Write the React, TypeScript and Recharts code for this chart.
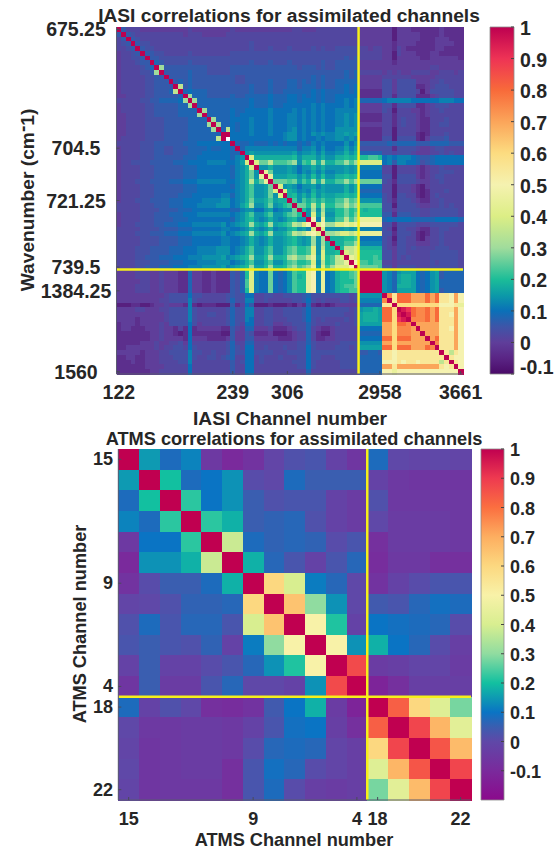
import { ScatterChart, Scatter, XAxis, YAxis, ReferenceLine, BarChart, Bar } from "recharts";

const FONT = "'Liberation Sans', Arial, sans-serif";
const INK = "#262626";

// correlation, one letter per cell
const LEVEL_KEYS = "abcdefghijklmnopqrstuvwxyzABCDE";
const LEVEL_VALUES = [
  -0.1, -0.06, -0.03, 0, 0.02, 0.04, 0.06, 0.08, 0.1, 0.12, 0.14, 0.16, 0.18, 0.2, 0.23, 0.26,
  0.3, 0.35, 0.4, 0.45, 0.5, 0.55, 0.6, 0.65, 0.7, 0.75, 0.8, 0.85, 0.9, 0.95, 1,
];

// lower triangle, the matrix is symmetric
const iasiRows = [
  "E",
  "gE",
  "egE",
  "efgE",
  "eefgE",
  "deefgE",
  "deeffgE",
  "deeefggE",
  "deeeefghE",
  "deeeeffgqE",
  "deeeeeffgg E",
  "deeeeeffgg gE",
  "deeeeeffgg ggE",
  "deeeeeffgg ghrE",
  "ddeeeeffgg ggghE",
  "eeeeeffggh hhhiqE",
  "deeeeeffgg ggghhqE",
  "deeeeeffgg ggghhhhE",
  "ddeeeeffgg ggghhhhqE",
  "ddeeeeffff ggggghhhhE",
  "ddeeeeffff ggggghhhhq E",
  "ddeeeeffff ggggghhhhh qE",
  "ddeeeeffff ggggghhhhh hhE",
  "deeeeeffff ggggghhhhh hrE",
  "eeeeefffgg gggghhhiii iiiiE",
  "deeeefffgg ffggghhhhi hhiihE",
  "deeeefffgg ffggghhhii iiiihhE",
  "deeeefffgg gggghhhiii iiiihjkE",
  "deeffffggg gghhhiiiij jjjiijlsE",
  "deeeefffgg gggghhhiii iiiihjkmsE",
  "deeeefffgg gggghhhiii iiiihjkmpk E",
  "deeeefffgg gggghhhiii iiiihjkmpk tE",
  "deeefffggg ghhhiiijjj jjjiijkmrm ptE",
  "deeeefffgg gggghhhiii iiiihjkmok klpE",
  "deeeefffgg gggghhhiii iiiiijkmok klpsE",
  "deeeefffgg ggghhhiiii iijjhjkmok klpksE",
  "deeefffggg ghhhiiiijj jjkkijkmpl lmolmmE",
  "eeeeefffgg ghhhiiijjj jkkkijlnqk kmpklnoE",
  "eeeeeffffg ggghhhiiii iiiihhjkki iklijkkpE",
  "deeeefffgg ghhhiiijjj jjjjijkmok kmokkmopnE",
  "deeeefffgg gghhhiiiii iiiihjkmnk jkmkjkmnkk E",
  "deeeffffgg hhhiiijjjj jjkijklmqm lnqlmnorqs uE",
  "eeeeeffffg ggghhhiiii iijjiijkmk jkmjkkmnkl jsE",
  "eeeefffggg hhhiiijjjj jjkijklmqm lnqllmorqr tusE",
  "eeeeeffffg ggghhhiiii iijjiijkmk jkmkklmnlk lqkqE",
  "eeeeeffffg ggghhhiiii iijjiijkmk jkmkklmnlk lqkqmE",
  "eeeefffggg ghhhiiijjj jkkkijkmok kmokkmopnn oskrmmE",
  "eeeefffggg ghhhiiijjj jkkkijkmok kmokkmopnn osksmmnE",
  "eeeeffgggh hhiiijjjkk kkljklmnql lnqmmnqrpp rtlsnorsE",
  "eeeefffggg ghhhiiijjj jkkkijkmok kmokkmopnn oskrnorrtE",
  "eeeeffgggh hhiiijjjkk kkljklmnql lnqmmnpqop qtlsoqsssu E",
  "ddddeeedde dddcchddcc dcccgfhnsj iipihikonn tujtijmnno pE",
  "ddddeeedde dddcchddcc dcccgfhnsj iipihikomn tujtijmnno pEE",
  "dddddeedde dddcchddcc dcccgfhosj iipihikonn tujtijmnnn pEEE",
  "ddddeeedde dddcchddcc dcccgfhosj iipihikonn tujtijmnoo pEEEE",
  "ddddeeedde dddcchddcc dcccgfhnsj iipihikonn tujtijmnno oEEEEE",
  "dddddddddd effffiffee eeefgffiie effeeffffg hffffffffe f kkkkk E",
  "ddddddddde effffjfeee eeefhffjje efeeeeeffg ifefeeeffe f jjjjj zE",
  "bbbccbbcdd edddcjcbcc cbbbgceigb bbcbbbcbdc hcbcbcdddd d hhhhh vvE",
  "ddddeeddde effffjfeee eeefhffjje effeeffffg iffffffffe f kllml AAwE",
  "dddddddddd effffjfeef feefhffjje effeeffffg ifffffffee f lmmml AAwDE",
  "ddddcddddd effffjfeee eeefhffjie effeeefffg ifefeeeefe f lmmml AAwCDE",
  "cdddcdddde dffffifdee eeefhfeiie effddeefff hfeeeefeee f lllll yywAAzE",
  "cddcccddde ddcecicddd ddccgedhhd ddecccdeff hedccdeeee e iiiii yywzzzyE",
  "cccccccdde ddcbcicccc ccbbgddgfc ccdbbbcdee hecbbdeeee e hhhhh yywzzzyyE",
  "cccccccdde ddddcidddc cccdgddggd ddddcccdee heccddeeee e iiiii AAwAAAyyyE",
  "cccccddded deefdieeee eeefheehhe eeeeeeeeff hfeeeeefff f kkkkk yywyyyyyyyE",
  "ccdddddded eeffeifeee eeefhfeiie efeeefeeff ifeeeefffe f lllll AAwAAAyyyAzE",
  "dddddcddde effffjffee feefhffiif fffeeeffff ifffffffff f gghhg vvuvvvvvvvvvE",
  "ccddccddde eefffjfeef fefgheeiie feeefeeeff iffeeeffff f hhhhh vvuvvvvvvvvvvE",
  "cccdccddde eeeffjeeee eeeegefiie feeeeeefff ifeeeeefff f hhhhh uuuvuvvuvvvvrvE",
  "ccccccdddd eeeeeieeee eeeegeeiie eeeeeeeeff ifeeeeefff f hhhhh yyvyyyyyyyyyvuvE",
  "cccccccdde eeeeeieeee eeeegeeiie eeeeeeeeee heeeeeeeee e hhhhh uutuuuuuuuuuuuuuE",
];

const atmsRows = [
  [1],
  [0.15, 1],
  [0.08, 0.2, 1],
  [0.12, 0.08, 0.22, 1],
  [-0.05, 0.1, 0.1, 0.22, 1],
  [-0.1, 0.14, 0.14, 0.18, 0.38, 1],
  [-0.07, 0.01, 0.05, 0.05, 0.08, 0.18, 1],
  [-0.01, 0, 0.02, 0.06, 0.06, 0.07, 0.6, 1],
  [0.02, 0.08, 0.03, 0.07, 0.07, 0.03, 0.4, 0.65, 1],
  [0.03, 0.05, 0.03, 0.02, 0.06, -0.02, 0.11, 0.3, 0.5, 1],
  [-0.02, 0.05, -0.02, -0.02, 0.01, 0.03, 0.07, 0.14, 0.21, 0.5, 1],
  [-0.06, 0.05, -0.04, -0.04, 0.03, 0.07, 0, 0, -0.02, 0.14, 0.87, 1],
  [0.08, -0.02, 0.02, 0, -0.08, -0.09, -0.07, 0.04, 0.1, 0.18, -0.04, -0.12, 1],
  [0, -0.05, -0.05, -0.04, -0.04, -0.05, -0.02, 0.03, 0.09, 0.1, -0.03, -0.08, 0.83, 1],
  [-0.01, -0.06, -0.05, -0.04, -0.04, -0.05, 0.01, 0.07, 0.08, 0.07, -0.01, -0.03, 0.6, 0.88, 1],
  [0, -0.06, -0.05, -0.04, -0.04, -0.08, 0.03, 0.09, 0.07, 0.01, -0.01, -0.03, 0.42, 0.68, 0.85, 1],
  [-0.01, -0.06, -0.05, -0.05, -0.05, -0.08, 0.03, 0.08, 0.01, -0.03, -0.04, -0.03, 0.28, 0.43, 0.67, 0.88, 1],
];

const iasiXTicks = [0.5, 24.5, 36, 55.5, 72.5];
const iasiXLabels = ["122", "239", "306", "2958", "3661"];
const iasiYTicks = [0.5, 25.5, 36.5, 50.5, 55.5, 72.5];
const iasiYLabels = ["675.25", "704.5", "721.25", "739.5", "1384.25", "1560"];
const atmsXTicks = [0.5, 6.5, 11.5, 12.5, 16.5];
const atmsXLabels = ["15", "9", "4", "18", "22"];
const atmsYTicks = [0.5, 6.5, 11.5, 12.5, 16.5];
const atmsYLabels = ["15", "9", "4", "18", "22"];

const iasiBarTicks = [-0.1, 0, 0.1, 0.2, 0.3, 0.4, 0.5, 0.6, 0.7, 0.8, 0.9, 1];
const atmsBarTicks = [-0.1, 0, 0.1, 0.2, 0.3, 0.4, 0.5, 0.6, 0.7, 0.8, 0.9, 1];

const iasiStopValues = [-0.1, -0.05, 0, 0.05, 0.1, 0.15, 0.2, 0.3, 0.4, 0.5, 0.6, 0.7, 0.8, 0.9, 1];
const iasiStopColors = ["#4a0a68", "#5a2585", "#5f3e9a", "#3e55a8", "#0a70b8", "#0c9aa8", "#1cbd98", "#a0dc9c", "#dcee85", "#f5f2b0", "#fcdc80", "#fba55a", "#f86a3a", "#ee3355", "#bd0050"];
const atmsStopValues = [-0.2, -0.1, 0, 0.05, 0.1, 0.2, 0.3, 0.4, 0.5, 0.6, 0.7, 0.8, 0.9, 1];
const atmsStopColors = ["#8b0a8c", "#7a2a9c", "#5f48a8", "#3a5eb0", "#0a74c4", "#12c0a0", "#90dca0", "#d8ee90", "#f8f2a8", "#fcd880", "#fdae60", "#fb6f40", "#ee3a50", "#c00050"];

const hexToRgb = (h: string) => [1, 3, 5].map((i) => parseInt(h.slice(i, i + 2), 16));

function colorOf(v: number, values: number[], colors: string[]) {
  let i = 0;
  while (i < values.length - 2 && v > values[i + 1]) i++;
  const t = Math.max(0, Math.min(1, (v - values[i]) / (values[i + 1] - values[i])));
  const a = hexToRgb(colors[i]);
  const b = hexToRgb(colors[i + 1]);
  return `rgb(${a.map((c, k) => Math.round(c + (b[k] - c) * t)).join(",")})`;
}

const decodeRow = (s: string) => s.replace(/ /g, "").split("").map((ch) => LEVEL_VALUES[LEVEL_KEYS.indexOf(ch)]);

function cellsFrom(rows: number[][]) {
  const out: { x: number; y: number; v: number }[] = [];
  rows.forEach((row, r) => {
    row.forEach((v, c) => {
      out.push({ x: c + 0.5, y: r + 0.5, v });
      if (c !== r) out.push({ x: r + 0.5, y: c + 0.5, v });
    });
  });
  return out;
}

const iasiCells = cellsFrom(iasiRows.map(decodeRow));
const atmsCells = cellsFrom(atmsRows);

const NoMark = () => null;

function Heatmap(props: any) {
  const { box, n, cells, stopValues, stopColors, split, xTicks, xLabels, yTicks, yLabels, fontSize, yLabelX, yAnchor, tickGap, title, xTitle, yTitle, top, height } = props;
  const w = (box.right - box.left) / n;
  const h = (box.bottom - box.top) / n;
  const cell = (p: any) => (
    <rect
      x={p.cx - w / 2}
      y={p.cy - h / 2}
      width={w + 0.5}
      height={h + 0.5}
      shapeRendering="crispEdges"
      fill={colorOf(p.payload.v, stopValues, stopColors)}
    />
  );
  const tickStyle = { fill: INK, fontSize, fontWeight: 700, fontFamily: FONT };
  const yTick = (p: any) => (
    <text x={yLabelX} y={p.y} textAnchor={yAnchor} dominantBaseline="central" {...{ fill: INK, fontFamily: FONT, fontWeight: 700, fontSize }}>
      {yLabels[yTicks.indexOf(p.payload.value)]}
    </text>
  );
  return (
    <>
      <div style={{ position: "absolute", left: 0, top }}>
        <ScatterChart
          width={554}
          height={height}
          margin={{ top: box.top, left: box.left, right: 554 - box.right, bottom: height - box.bottom }}
        >
          <XAxis type="number" dataKey="x" domain={[0, n]} hide />
          <YAxis type="number" dataKey="y" domain={[0, n]} reversed hide />
          <Scatter data={cells} shape={cell} isAnimationActive={false} />
        </ScatterChart>
      </div>
      {/* second layer so the yellow lines and axes sit on top of the cells */}
      <div style={{ position: "absolute", left: 0, top }}>
        <ScatterChart
          width={554}
          height={height}
          margin={{ top: box.top, left: box.left - 80, right: 554 - box.right, bottom: height - box.bottom - 40 }}
        >
          <XAxis
            type="number"
            dataKey="x"
            domain={[0, n]}
            ticks={xTicks}
            interval={0}
            height={40}
            tick={tickStyle}
            tickFormatter={(v: number) => xLabels[xTicks.indexOf(v)]}
            tickSize={-3}
            tickMargin={tickGap}
            tickLine={{ stroke: "#4a4a5a" }}
            axisLine={{ stroke: "#5a5a70" }}
          />
          <YAxis
            type="number"
            dataKey="y"
            domain={[0, n]}
            reversed
            ticks={yTicks}
            interval={0}
            width={80}
            tick={yTick}
            tickSize={-3}
            tickLine={{ stroke: "#4a4a5a" }}
            axisLine={{ stroke: "#5a5a70" }}
          />
          <Scatter data={cells.slice(0, 1)} shape={NoMark} isAnimationActive={false} />
          <ReferenceLine x={split} stroke="#f6f01a" strokeWidth={2.5} />
          <ReferenceLine y={split} stroke="#f6f01a" strokeWidth={2.5} />
          <text x={title.x} y={title.y} textAnchor="middle" dominantBaseline="central" fill={INK} fontFamily={FONT} fontWeight={700} fontSize={title.size}>
            {title.text}
          </text>
          <text x={xTitle.x} y={xTitle.y} textAnchor="middle" dominantBaseline="central" fill={INK} fontFamily={FONT} fontWeight={700} fontSize={xTitle.size}>
            {xTitle.text}
          </text>
          <text
            transform={`translate(${yTitle.x},${yTitle.y}) rotate(-90)`}
            textAnchor="middle"
            dominantBaseline="central"
            fill={INK}
            fontFamily={FONT}
            fontWeight={700}
            fontSize={yTitle.size}
          >
            {yTitle.text}
            {yTitle.sup ? (
              <>
                (cm<tspan dy={-5}>-</tspan>
                <tspan dy={5}>1)</tspan>
              </>
            ) : null}
          </text>
        </ScatterChart>
      </div>
    </>
  );
}

function ColorBar(props: any) {
  const { id, box, lo, ticks, stopValues, stopColors, fontSize, top, height } = props;
  const labelTick = (p: any) => {
    const v = p.payload.value;
    return (
      <text x={box.right + 6} y={p.y + (v === -0.1 && lo === -0.1 ? -7 : 1)} dominantBaseline="central" fill={INK} fontFamily={FONT} fontWeight={700} fontSize={fontSize}>
        {String(v)}
      </text>
    );
  };
  const margin = { top: box.top, left: box.left, right: 554 - box.right, bottom: height - box.bottom };
  return (
    <>
      <div style={{ position: "absolute", left: 0, top }}>
        <BarChart width={554} height={height} data={[{ name: "scale", range: [lo, 1] }]} barCategoryGap={0} margin={margin}>
          <defs>
            <linearGradient id={id} x1="0" y1="1" x2="0" y2="0">
              {stopValues.map((v: number, i: number) => (
                <stop key={v} offset={(v - lo) / (1 - lo)} stopColor={stopColors[i]} />
              ))}
            </linearGradient>
          </defs>
          <XAxis dataKey="name" hide />
          <YAxis type="number" domain={[lo, 1]} hide />
          <Bar dataKey="range" fill={`url(#${id})`} stroke="#8a8a8a" strokeWidth={0.8} isAnimationActive={false} />
        </BarChart>
      </div>
      <div style={{ position: "absolute", left: 0, top }}>
        <ScatterChart width={554} height={height} margin={{ ...margin, right: margin.right - 40 }}>
          <XAxis type="number" dataKey="x" domain={[0, 1]} hide />
          <YAxis
            orientation="right"
            type="number"
            dataKey="y"
            domain={[lo, 1]}
            ticks={ticks}
            interval={0}
            width={40}
            tick={labelTick}
            tickSize={-3}
            tickLine={{ stroke: "#444" }}
            axisLine={false}
          />
          <Scatter data={[{ x: 0, y: 1 }]} shape={NoMark} isAnimationActive={false} />
        </ScatterChart>
      </div>
    </>
  );
}

export default function App() {
  return (
    <div style={{ position: "absolute", left: 0, top: 0, width: 554, height: 849, background: "#fff", overflow: "hidden" }}>
      <Heatmap
        top={0}
        height={430}
        box={{ left: 116.5, right: 463, top: 27, bottom: 374 }}
        n={73}
        cells={iasiCells}
        stopValues={iasiStopValues}
        stopColors={iasiStopColors}
        split={51}
        xTicks={iasiXTicks}
        xLabels={iasiXLabels}
        yTicks={iasiYTicks}
        yLabels={iasiYLabels}
        fontSize={19.5}
        yLabelX={76}
        yAnchor="middle"
        tickGap={14}
        title={{ text: "IASI correlations for assimilated channels", x: 289, y: 15, size: 19.2 }}
        xTitle={{ text: "IASI Channel number", x: 290, y: 418, size: 19.2 }}
        yTitle={{ text: "Wavenumber ", sup: true, x: 27, y: 200, size: 19.2 }}
      />
      <ColorBar id="iasiBar" top={0} height={430} box={{ left: 490, right: 514, top: 27, bottom: 374 }} lo={-0.1} ticks={iasiBarTicks} stopValues={iasiStopValues} stopColors={iasiStopColors} fontSize={19.5} />
      <Heatmap
        top={425}
        height={424}
        box={{ left: 118.3, right: 471, top: 24, bottom: 375 }}
        n={17}
        cells={atmsCells}
        stopValues={atmsStopValues}
        stopColors={atmsStopColors}
        split={12}
        xTicks={atmsXTicks}
        xLabels={atmsXLabels}
        yTicks={atmsYTicks}
        yLabels={atmsYLabels}
        fontSize={18}
        yLabelX={113}
        yAnchor="end"
        tickGap={15}
        title={{ text: "ATMS correlations for assimilated channels", x: 294, y: 14, size: 18.2 }}
        xTitle={{ text: "ATMS Channel number", x: 294, y: 415, size: 18.2 }}
        yTitle={{ text: "ATMS Channel number", x: 80, y: 199, size: 18.2 }}
      />
      <ColorBar id="atmsBar" top={425} height={424} box={{ left: 481, right: 504, top: 24, bottom: 375 }} lo={-0.2} ticks={atmsBarTicks} stopValues={atmsStopValues} stopColors={atmsStopColors} fontSize={18} />
    </div>
  );
}
